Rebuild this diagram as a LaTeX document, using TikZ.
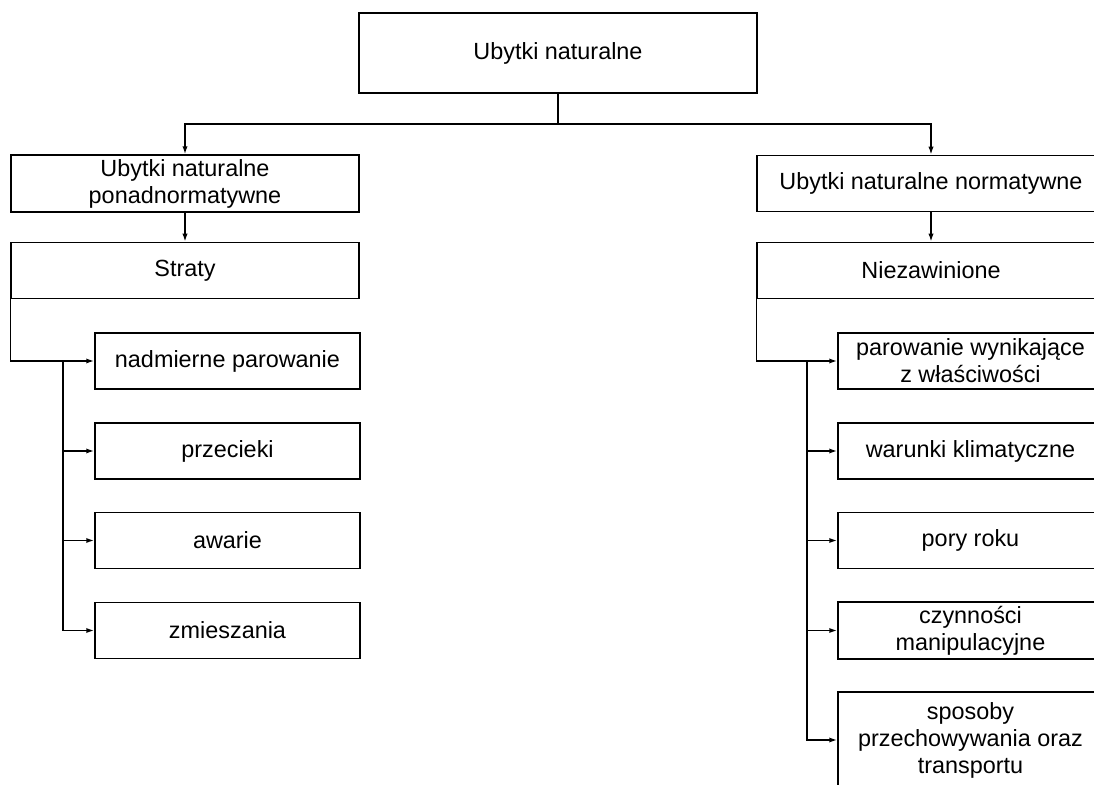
\documentclass[tikz,border=0pt]{standalone}
\usepackage{fontspec}
\setmainfont{Liberation Sans}
\usetikzlibrary{arrows.meta}
\begin{document}
\begin{tikzpicture}[x=0.5pt,y=-0.5pt]
            \tikzstyle{box}=[draw,line width=0.75pt,align=center,inner sep=2pt,font=\fontsize{11.7}{13.5}\selectfont]
            \tikzstyle{main box}=[box,minimum width=199pt,minimum height=40pt]
            \tikzstyle{group box}=[box,minimum width=174pt,minimum height=28pt]
            \tikzstyle{item box}=[box,minimum width=132.5pt,minimum height=28pt]
            \tikzstyle{link}=[line width=0.75pt]
            \tikzstyle{arr}=[link,-{Latex[length=4pt,width=2.6pt]}]

            \useasboundingbox (0,0) rectangle (1094,785);
            \clip (0,0) rectangle (1094,785);

            \node(root)[main box] at (558,53) {Ubytki naturalne};

            % left side
            \node(ponad)[group box] at (185,183.5) {Ubytki naturalne\\ponadnormatywne};
            \node(straty)[group box] at (185,270.5) {Straty};
            \node(lk1)[item box] at (227.5,361) {nadmierne parowanie};
            \node(lk2)[item box] at (227.5,451) {przecieki};
            \node(lk3)[item box] at (227.5,540.5) {awarie};
            \node(lk4)[item box] at (227.5,630.5) {zmieszania};

            % right side
            \node(norm)[group box] at (931,183.5) {Ubytki naturalne normatywne};
            \node(niez)[group box] at (931,270.5) {Niezawinione};
            \node(rk1)[item box] at (970.5,361) {parowanie wynikające\\z właściwości};
            \node(rk2)[item box] at (970.5,451) {warunki klimatyczne};
            \node(rk3)[item box] at (970.5,540.5) {pory roku};
            \node(rk4)[item box] at (970.5,630.5) {czynności\\manipulacyjne};
            \node(rk5)[item box,minimum height=48pt] at (970.5,740) {sposoby\\przechowywania oraz\\transportu};

            \coordinate (bar) at (558,124);
            \coordinate (lbr) at (63,361);
            \coordinate (rbr) at (807,361);

            \draw[link] (root.south) -- (bar);
            \draw[arr] (bar) -| (ponad.north);
            \draw[arr] (bar) -| (norm.north);
            \draw[arr] (ponad.south) -- (straty.north);
            \draw[arr] (norm.south) -- (niez.north);

            \draw[arr] (straty.south west) |- (lk1.west);
            \foreach \k in {2,3,4}
            \draw[arr] (lbr) |- (lk\k.west);

            \draw[arr] (niez.south west) |- (rk1.west);
            \foreach \k in {2,3,4,5}
            \draw[arr] (rbr) |- (rk\k.west);
        \end{tikzpicture}
\end{document}
